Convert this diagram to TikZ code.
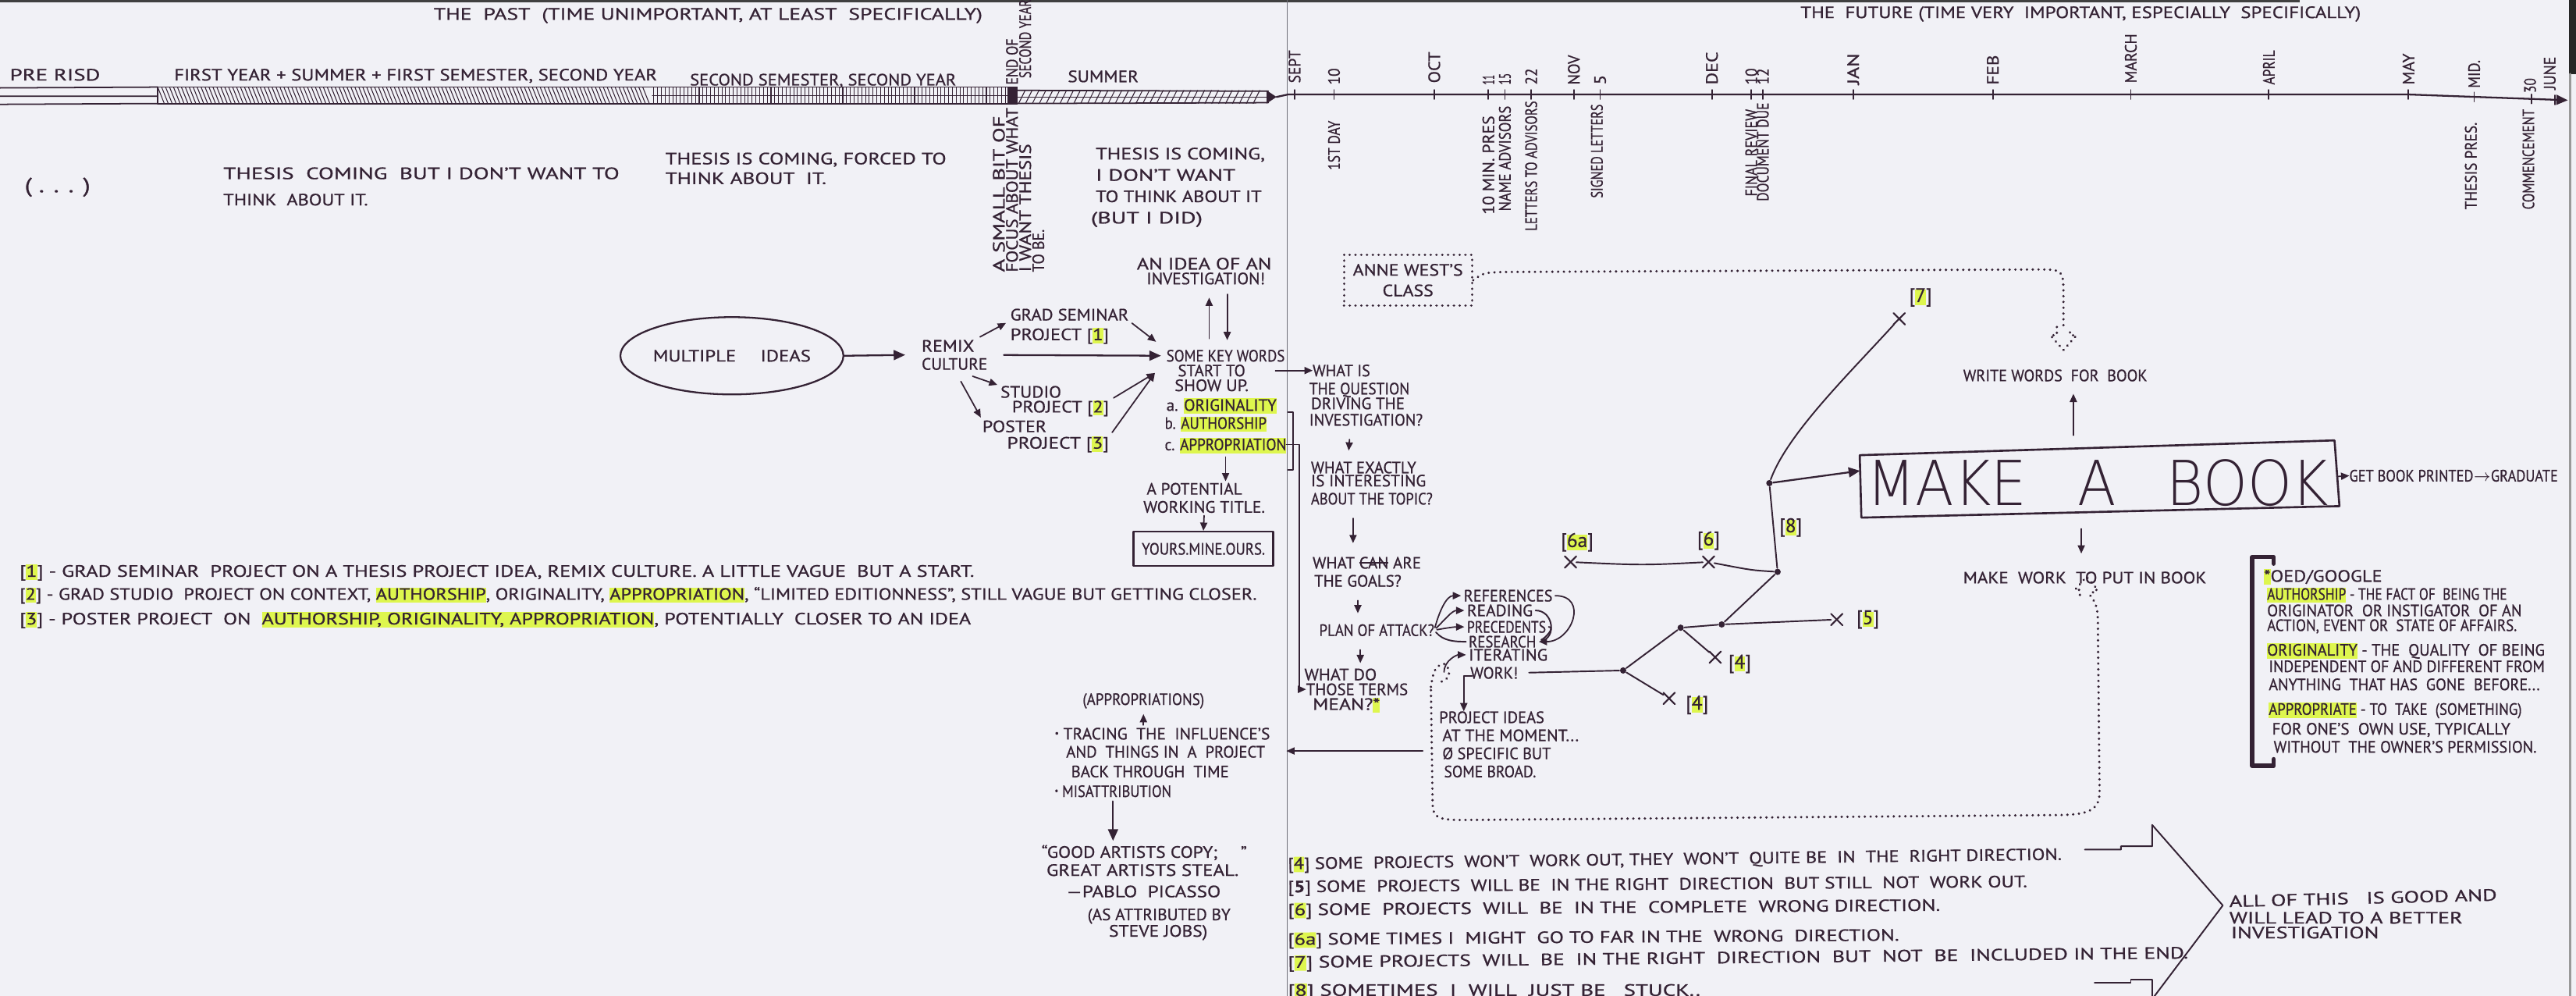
\documentclass[tikz,border=0pt]{standalone}
\usepackage{fontspec}
\setmainfont{PT Sans}[FakeBold=0.7]
\IfFontExistsTF{DejaVu Sans ExtraLight}
  {\newfontfamily\thinfont{DejaVu Sans ExtraLight}}
  {\newfontfamily\thinfont{DejaVu Sans}}
\usepackage{graphicx}
\usetikzlibrary{arrows.meta,shapes.geometric,shapes.misc,calc}

\definecolor{paper}{RGB}{241,241,246}
\definecolor{ink}{RGB}{52,34,52}
\definecolor{hilite}{RGB}{222,246,78}
\definecolor{foldgray}{RGB}{110,110,120}

\newlength\pxu
\setlength\pxu{0.2105mm}
% a handwritten line, squeezed or stretched to a width given in drawing units
\newcommand\fitw[2]{\resizebox{#1\pxu}{\height}{#2}}
% highlighter stroke behind a word
\newcommand\hlt[1]{\begingroup\setbox0=\hbox{#1}\rlap{\smash{\color{hilite}\rule[-1.1pt]{\wd0}{5.6pt}}}\box0\endgroup}
% crossed-out word
\newcommand\strk[1]{\begingroup\setbox0=\hbox{#1}\rlap{\smash{\rule[1.9pt]{\wd0}{0.45pt}}}\box0\endgroup}
\newcommand\tagn[1]{[\hlt{#1}]}
\newcommand\handfont{\fontsize{6}{7}\selectfont}
\newcommand\tagfont{\fontsize{7.2}{8}\selectfont}
\newcommand\bul{\raisebox{1.2pt}{\scalebox{0.55}{\textbullet}}}

\begin{document}
\begin{tikzpicture}[x=0.2105mm, y=-0.2105mm, line cap=round, line join=round,
  color=ink, line width=0.55pt,
  ln/.style={anchor=base west, inner sep=0pt, outer sep=0pt, font=\handfont, text=ink},
  upl/.style={rotate=90, anchor=west, inner sep=0pt, font=\handfont, text=ink},
  dnl/.style={rotate=90, anchor=east, inner sep=0pt, font=\handfont, text=ink},
  tagl/.style={inner sep=0pt, font=\tagfont, text=ink},
  arr/.style={-{Triangle[length=4.2pt,width=3.6pt]}, line width=0.65pt},
  sarr/.style={-{Triangle[length=3pt,width=2.6pt]}, line width=0.5pt},
  dotline/.style={dash pattern=on 0.01pt off 2.1pt, line width=0.95pt},
  hatch/.style={line width=0.3pt},
  xm/.style={cross out, draw=ink, minimum size=3.6pt, inner sep=0pt, line width=0.6pt},
  knot/.style={circle, fill=ink, inner sep=0pt, minimum size=2.3pt},
]
% ---------- sheet ----------
\fill[paper] (0,0) rectangle (1568,606);
\useasboundingbox (0,0) rectangle (1568,606);
\fill[black!75] (0,0) rectangle (1400,1.3);
\fill[black!85] (1563.5,0) rectangle (1568,45);
\draw[black!40, line width=0.8pt] (1564.5,45) -- (1564.5,606);
\draw[foldgray, line width=0.45pt] (783.5,0) -- (783.5,606);

% ---------- headings ----------
\node[ln] (pasthead) at (264,12) {\fitw{334}{THE \ PAST \ (TIME UNIMPORTANT, AT LEAST \ SPECIFICALLY)}};
\node[ln] (futhead) at (1096,11) {\fitw{341}{THE \ FUTURE (TIME VERY \ IMPORTANT, ESPECIALLY \ SPECIFICALLY)}};

% ---------- the past: shaded time bar ----------
\draw[line width=0.5pt] (0,53.5) -- (96,53) (0,58.5) -- (96,58.5) (0,63.5) -- (96,63);
\draw[line width=0.5pt] (96,53) -- (614,53) (96,63) -- (614,63) (96,53) -- (96,63);
\foreach \x in {96,98.4,...,393} \draw[hatch] (\x,53) -- (\x+4,63);
\foreach \x in {398,400.3,...,612} \draw[hatch] (\x,53) -- (\x,63);
\draw[hatch] (397,58) -- (614,58);
\fill (613,52.5) rectangle (619.5,63.5);
\draw[line width=0.5pt] (619,55) -- (772,55.5) (619,63) -- (772,62.5);
\draw[hatch] (619,59) -- (772,59);
\foreach \x in {620,624.2,...,766} \draw[hatch] (\x,63) -- (\x+4,55);
\fill (771,55) -- (777,59) -- (771,63) -- cycle;

\node[ln] (prerisd) at (6,49) {\fitw{55}{PRE RISD}};
\node[ln] (yearone) at (106,49) {\fitw{294}{FIRST YEAR + SUMMER + FIRST SEMESTER, SECOND YEAR}};
\node[ln] (semtwo) at (420,52) {\fitw{162}{SECOND SEMESTER, SECOND YEAR}};
\node[ln] (summer) at (650,50) {\fitw{43}{SUMMER}};
\node[upl] (endof) at (616,52) {\fitw{28}{END OF}};
\node[upl] (secyear) at (624,48) {\fitw{48}{SECOND YEAR}};

% ---------- the future: time line ----------
\draw[arr] (777,59) -- (784,57.5) -- (1466,57.5) -- (1563,61);
\foreach \x/\y in {788/57.5,812/57.5,873/57.5,906/57.5,916/57.5,932/57.5,958/57.5,974/57.5,
  1042/57.5,1066/57.5,1073/57.5,1128/57.5,1213/57.5,1297/57.5,1381/57.5,1466/57.5,
  1506/59,1541/60.2,1555/60.8}
  \draw[line width=0.5pt] (\x,\y-2.8) -- (\x,\y+2.8);

\node[upl] (mSep) at (788,51) {\fitw{20}{SEPT}};
\node[upl] (mS10) at (812,52) {\fitw{10}{10}};
\node[upl] (mOct) at (873,51) {\fitw{19}{OCT}};
\node[upl] (mO11) at (906,52) {\fitw{6}{11}};
\node[upl] (mO15) at (916,52) {\fitw{7}{15}};
\node[upl] (mO22) at (932,52) {\fitw{10}{22}};
\node[upl] (mNov) at (958,52) {\fitw{18}{NOV}};
\node[upl] (mN5) at (974,52) {\fitw{6}{5}};
\node[upl] (mDec) at (1042,52) {\fitw{20}{DEC}};
\node[upl] (mD10) at (1066,52) {\fitw{10}{10}};
\node[upl] (mD12) at (1073,52) {\fitw{10}{12}};
\node[upl] (mJan) at (1128,52) {\fitw{19}{JAN}};
\node[upl] (mFeb) at (1213,52) {\fitw{18}{FEB}};
\node[upl] (mMar) at (1297,51) {\fitw{30}{MARCH}};
\node[upl] (mApr) at (1381,52) {\fitw{21}{APRIL}};
\node[upl] (mMay) at (1466,52) {\fitw{19}{MAY}};
\node[upl] (mMid) at (1506,54) {\fitw{17}{MID.}};
\node[upl] (mM30) at (1540,57) {\fitw{9}{30}};
\node[upl] (mJun) at (1552,55) {\fitw{20}{JUNE}};

\node[dnl] (eDay) at (812,73) {\fitw{30}{1ST DAY}};
\node[dnl] (ePres) at (906,70) {\fitw{60}{10 MIN. PRES}};
\node[dnl] (eName) at (916,64) {\fitw{64}{NAME ADVISORS}};
\node[dnl] (eLet) at (932,61) {\fitw{79}{LETTERS TO ADVISORS}};
\node[dnl] (eSign) at (972,63) {\fitw{57}{SIGNED LETTERS}};
\node[dnl] (eRev) at (1066,66) {\fitw{53}{FINAL REVIEW}};
\node[dnl] (eDoc) at (1073,62) {\fitw{60}{DOCUMENT DUE}};
\node[dnl] (eThe) at (1504,74) {\fitw{53}{THESIS PRES.}};
\node[dnl] (eCom) at (1539,66) {\fitw{61}{COMMENCEMENT}};

% ---------- the past: notes ----------
\node[ln, font=\fontsize{7.5}{8}\selectfont] (ellip) at (15,117) {\fitw{40}{( . . . )}};
\node[ln] (ta1) at (136,109) {\fitw{241}{THESIS \ COMING \ BUT I DON'T WANT TO}};
\node[ln] (ta2) at (136,125) {\fitw{88}{THINK \ ABOUT IT.}};
\node[ln] (tb1) at (405,100) {\fitw{171}{THESIS IS COMING, FORCED TO}};
\node[ln] (tb2) at (405,112) {\fitw{98}{THINK ABOUT \ IT.}};
\node[upl] (fa) at (608,166) {\fitw{95}{A SMALL BIT OF}};
\node[upl] (fb) at (616,166) {\fitw{100}{FOCUS ABOUT WHAT}};
\node[upl] (fc) at (624,166) {\fitw{78}{I WANT THESIS}};
\node[upl] (fd) at (632,166) {\fitw{26}{TO BE.}};
\node[ln] (tc1) at (667,97) {\fitw{103}{THESIS IS COMING,}};
\node[ln] (tc2) at (667,110) {\fitw{85}{I DON'T WANT}};
\node[ln] (tc3) at (667,123) {\fitw{101}{TO THINK ABOUT IT}};
\node[ln] (tc4) at (664,136) {\fitw{68}{(BUT I DID)}};

% ---------- how the idea came about ----------
\node[ellipse, draw, line width=0.65pt, minimum width=22.5mm, minimum height=9.9mm,
  inner sep=0pt, font=\handfont, text=ink] (ideas) at (445.5,216.5) {\fitw{96}{MULTIPLE \quad IDEAS}};
\node[ln] (remix) at (561,214) {\fitw{32}{REMIX}};
\node[ln] (culture) at (561,225) {\fitw{40}{CULTURE}};
\node[ln] (grada) at (615,195) {\fitw{72}{GRAD SEMINAR}};
\node[ln] (gradb) at (615,207) {\fitw{60}{PROJECT \tagn{1}}};
\node[ln] (stua) at (609,242) {\fitw{37}{STUDIO}};
\node[ln] (stub) at (616,251) {\fitw{59}{PROJECT \tagn{2}}};
\node[ln] (posa) at (598,263) {\fitw{39}{POSTER}};
\node[ln] (posb) at (613,273) {\fitw{62}{PROJECT \tagn{3}}};
\node[ln] (kwa) at (710,220) {\fitw{72}{SOME KEY WORDS}};
\node[ln] (kwb) at (717,229) {\fitw{41}{START TO}};
\node[ln] (kwc) at (715,238) {\fitw{45}{SHOW UP.}};
\node[ln] (wa) at (710,250) {\fitw{67}{a. \hlt{ORIGINALITY}}};
\node[ln] (wb) at (709,261) {\fitw{62}{b. \hlt{AUTHORSHIP}}};
\node[ln] (wc) at (709,274) {\fitw{74}{c. \hlt{APPROPRIATION}}};
\node[ln] (inva) at (692,164) {\fitw{82}{AN IDEA OF AN}};
\node[ln] (invb) at (698,173) {\fitw{72}{INVESTIGATION!}};
\node[ln] (pota) at (698,301) {\fitw{58}{A POTENTIAL}};
\node[ln] (potb) at (696,312) {\fitw{74}{WORKING TITLE.}};
\node[draw, line width=0.65pt, minimum width=17.9mm, minimum height=4.4mm, inner sep=0pt,
  font=\handfont, text=ink] (yours) at (732.5,334) {\fitw{75}{YOURS.MINE.OURS.}};

\coordinate (remixin) at (551,216);
\coordinate (kwin) at (703,227);
\coordinate (kwup) at (736,206);
\coordinate (kwdown) at (747,207);
\draw[arr] (ideas.east) -- (remixin);
\draw[sarr, shorten <=2.4pt, shorten >=1.8pt] (remix.north east) -- (grada.south west);
\draw[sarr, shorten <=1.5pt, shorten >=4.8pt] (grada.south east) -- (kwa.north west);
\draw[arr, shorten <=8.4pt, shorten >=2pt] ($(remix.east)!0.5!(culture.east)$) -- (kwa.west);
\draw[sarr, shorten <=7pt, shorten >=1.2pt] (culture.south) -- (stua.north west);
\draw[sarr, shorten <=4.8pt, shorten >=1.2pt] (culture.south) -- (posa.north west);
\draw[sarr, shorten <=2pt] (stub.north east) -- (kwin);
\draw[sarr, shorten <=2pt] (posb.north east) -- (kwin);
\draw[sarr, shorten >=4.8pt] (kwup) -- (kwup |- invb.south);
\draw[sarr, shorten <=3.6pt] (kwdown |- invb.south) -- (kwdown);
\draw[sarr, shorten <=2.4pt, shorten >=0.6pt] (wc.south) -- (wc.south |- pota.north);
\draw[sarr, shorten <=1pt] (potb.south) -- (yours.north);

% ---------- footnotes of the past ----------
\node[ln] (fn1) at (12,351) {\fitw{581}{\tagn{1} - GRAD SEMINAR \ PROJECT ON A THESIS PROJECT IDEA, REMIX CULTURE. A LITTLE VAGUE \ BUT A START.}};
\node[ln] (fn2) at (12,365) {\fitw{753}{\tagn{2} - GRAD STUDIO \ PROJECT ON CONTEXT, \hlt{AUTHORSHIP}, ORIGINALITY, \hlt{APPROPRIATION}, “LIMITED EDITIONNESS”, STILL VAGUE BUT GETTING CLOSER.}};
\node[ln] (fn3) at (12,380) {\fitw{579}{\tagn{3} - POSTER PROJECT \ ON \ \hlt{AUTHORSHIP, ORIGINALITY, APPROPRIATION}, POTENTIALLY \ CLOSER TO AN IDEA}};

% ---------- appropriation notes ----------
\node[ln] (appr) at (659,429) {\fitw{74}{(APPROPRIATIONS)}};
\node[ln] (tra) at (642,450) {\fitw{131}{\bul\ TRACING \ THE \ INFLUENCE'S}};
\node[ln] (trb) at (649,461) {\fitw{121}{AND \ THINGS IN \ A \ PROJECT}};
\node[ln] (trc) at (652,473) {\fitw{96}{BACK THROUGH \ TIME}};
\node[ln] (mis) at (642,485) {\fitw{71}{\bul\ MISATTRIBUTION}};
\node[ln] (qa) at (634,522) {\fitw{125}{“GOOD ARTISTS COPY; \quad ”}};
\node[ln] (qb) at (637,533) {\fitw{117}{GREAT ARTISTS STEAL.}};
\node[ln] (pic) at (649,546) {\fitw{94}{---PABLO \ PICASSO}};
\node[ln] (asat) at (662,560) {\fitw{87}{(AS ATTRIBUTED BY}};
\node[ln] (jobs) at (675,570) {\fitw{60}{STEVE JOBS)}};
\draw[sarr, shorten <=1pt, shorten >=2pt] (appr.south |- tra.north) -- (appr.south);
\draw[arr, shorten <=1.5pt, shorten >=1.5pt] (mis.south) -- (mis.south |- qa.north);

% ---------- the questions ----------
\node[ln] (qia) at (799,229) {\fitw{35}{WHAT IS}};
\node[ln] (qib) at (797,240) {\fitw{61}{THE QUESTION}};
\node[ln] (qic) at (798,249) {\fitw{57}{DRIVING THE}};
\node[ln] (qid) at (797,259) {\fitw{69}{INVESTIGATION?}};
\node[ln] (qiia) at (798,288) {\fitw{64}{WHAT EXACTLY}};
\node[ln] (qiib) at (798,296) {\fitw{70}{IS INTERESTING}};
\node[ln] (qiic) at (798,307) {\fitw{74}{ABOUT THE TOPIC?}};
\node[ln] (qiiia) at (799,346) {\fitw{66}{WHAT \strk{CAN} ARE}};
\node[ln] (qiiib) at (800,357) {\fitw{53}{THE GOALS?}};
\node[ln] (plan) at (803,387) {\fitw{70}{PLAN OF ATTACK?}};
\node[ln] (qva) at (794,414) {\fitw{44}{WHAT DO}};
\node[ln] (qvb) at (795,423) {\fitw{62}{THOSE TERMS}};
\node[ln] (qvc) at (799,432) {\fitw{41}{MEAN?\hlt{*}}};

\draw[sarr, shorten <=11pt] (kwb.east) -- (qia.west);
\draw (784,251) -- (787,251) -- (787,286) -- (784,286);
\draw[sarr] (wc.east) -- ++(8,0) |- (qvb.west);
\draw[sarr, shorten <=5pt, shorten >=4pt] ([xshift=-2mm]qid.south) -- ([xshift=-2mm]qiia.north);
\draw[sarr, shorten <=5pt, shorten >=5pt] ([xshift=-2.4mm]qiic.south) -- ([xshift=-2.4mm]qiic.south |- qiiia.north);
\draw[sarr, shorten <=5pt, shorten >=4pt] (qiiib.south) -- (qiiib.south |- plan.north);
\draw[sarr, shorten <=5pt, shorten >=2pt] ([xshift=-2.1mm]plan.south) -- ([xshift=-2.1mm]plan.south |- qva.north);

% ---------- plan of attack ----------
\node[ln] (rfa) at (891,366) {\fitw{54}{REFERENCES}};
\node[ln] (rfb) at (893,375) {\fitw{40}{READING}};
\node[ln] (rfc) at (893,385) {\fitw{48}{PRECEDENTS}};
\node[ln] (rfd) at (894,394) {\fitw{41}{RESEARCH}};
\node[ln] (rfe) at (894,402) {\fitw{48}{ITERATING}};
\node[ln] (rff) at (895,413) {\fitw{29}{WORK!}};
\node[ln] (pia) at (876,440) {\fitw{64}{PROJECT IDEAS}};
\node[ln] (pib) at (878,451) {\fitw{83}{AT THE MOMENT...}};
\node[ln] (pic2) at (878,462) {\fitw{66}{Ø SPECIFIC BUT}};
\node[ln] (pid) at (879,473) {\fitw{56}{SOME BROAD.}};

\draw[sarr, shorten <=1pt, shorten >=1pt] (plan.east) to[out=75,in=180] (rfa.west);
\draw[sarr, shorten <=1pt, shorten >=1pt] (plan.east) to[out=45,in=180] (rfb.west);
\draw[sarr, shorten <=1pt, shorten >=1pt] (plan.east) to[out=10,in=180] (rfc.west);
\draw[shorten <=1pt, shorten >=1pt] (plan.east) to[out=-50,in=180] (rfd.west);
\draw[sarr, shorten <=1pt, shorten >=1pt] (rfa.east) to[out=0,in=0,looseness=1.9] (rfd.east);
\draw[shorten <=1pt, shorten >=2pt] (rfb.east) to[out=0,in=10,looseness=1.7] (rfd.east);
\draw[shorten <=1pt, shorten >=2pt] (rfc.east) to[out=0,in=20,looseness=1.4] (rfd.east);
\coordinate (curl) at (879,409);
\draw[sarr, shorten >=1pt] (curl) to[out=90,in=180] (rfe.west);
\coordinate (workbend) at (891,411.5);
\draw (workbend) -- ++(5,0);
\draw[sarr] (workbend) -- (workbend |- pia.north);
\coordinate (backstart) at (866,457);
\draw[sarr] (backstart) -- (backstart -| wc.east);

% dotted loop back from the project ideas to the book
\draw[dotline] (871,418) to[out=80,in=200] (878,404) to[out=20,in=90] (882,410) to[out=-90,in=30] (875,416);
\draw[dotline] (871,420) -- (872,488) .. controls (872,497) and (874,499) .. (890,499)
  -- (1250,496) .. controls (1270,496) and (1278,494) .. (1278,482) -- (1277,385)
  .. controls (1277,372) and (1277,368) .. (1272,362);
\draw[dotline] (1266,362) -- (1266,359) -- (1263,359) -- (1270,351) -- (1277,359) -- (1274,359) -- (1274,362);

% ---------- anne west's class ----------
\node[draw, dotline, minimum width=16.4mm, minimum height=6.5mm, inner sep=0pt, align=center,
  font=\handfont, text=ink] (anne) at (857,170.5) {\fitw{67}{ANNE WEST'S}\\[0.5pt]\fitw{31}{CLASS}};
\draw[dotline] (anne.east) .. controls (903,166) .. (915,165.5) -- (1240,164)
  .. controls (1256,164) .. (1256,180) -- (1256,199);
\draw[dotline] (1252,199) -- (1252,204) -- (1248,204) -- (1256,213) -- (1264,204) -- (1260,204) -- (1260,199);

% ---------- make a book ----------
\coordinate (bk1) at (1132,277);
\coordinate (bk2) at (1421,268);
\coordinate (bk3) at (1424,308);
\coordinate (bk4) at (1133,315);
\draw[line width=0.75pt] (bk1) -- (bk2) -- (bk3) -- (bk4) -- cycle;
\node[inner sep=0pt, text=ink] (booktxt) at (1277,294) {\resizebox{281\pxu}{28\pxu}{\thinfont MAKE\hspace{0.9em}A\hspace{0.9em}BOOK}};
\node[ln] (print) at (1430,293) {\fitw{127}{GET BOOK PRINTED$\rightarrow$GRADUATE}};
\node[ln] (ww) at (1195,232) {\fitw{112}{WRITE WORDS \ FOR \ BOOK}};
\node[ln] (mw) at (1195,355) {\fitw{148}{MAKE \ WORK \ TO PUT IN BOOK}};
\coordinate (bktop) at ($(bk1)!0.45!(bk2)$);
\coordinate (bkbot) at ($(bk4)!0.46!(bk3)$);
\draw[sarr] ($(bk2)!0.55!(bk3)$) -- (print.west);
\draw[sarr, shorten <=4.8pt, shorten >=4.5pt] (bktop) -- (bktop |- ww.south);
\draw[sarr, shorten <=6pt, shorten >=6.6pt] (bkbot) -- (bkbot |- mw.north);

% ---------- the branching road of projects ----------
\node[xm] (x7) at (1156,194) {};
\node[knot] (n1) at (1077,294) {};
\node[knot] (n2) at (1082,348) {};
\node[xm] (x6) at (1040,342) {};
\node[xm] (x6a) at (956,342) {};
\node[knot] (n3) at (1048,380) {};
\node[xm] (x5) at (1118,377) {};
\node[knot] (n4) at (1023,382) {};
\node[xm] (x4a) at (1044,400) {};
\node[knot] (n5) at (988,408) {};
\node[xm] (x4b) at (1016,425) {};
\draw (x7) .. controls (1125,228) and (1088,264) .. (n1);
\draw[arr] (n1) -- ($(bk1)!0.25!(bk4)$);
\draw (n1) -- (n2);
\draw (n2) .. controls (1066,347) .. (x6);
\draw (x6) .. controls (1000,344) .. (x6a);
\draw (n2) -- (n3);
\draw (n4) -- (n3) -- (x5);
\draw (n4) -- (x4a);
\draw (n4) -- (n5);
\draw (n5) -- (x4b);
\draw[shorten <=4pt] (rff.east) -- (n5);

\node[tagl] (t7) at (1169,181) {\tagn{7}};
\node[tagl] (t8) at (1090,321) {\tagn{8}};
\node[tagl] (t6a) at (960,330) {\tagn{6a}};
\node[tagl] (t6) at (1040,329) {\tagn{6}};
\node[tagl] (t5) at (1137,377) {\tagn{5}};
\node[tagl] (t4a) at (1059,404) {\tagn{4}};
\node[tagl] (t4b) at (1033,429) {\tagn{4}};

% ---------- definitions ----------
\draw[line width=1.6pt] (1384,343) -- (1384,339) -- (1371,339) -- (1371,466) -- (1384,466) -- (1384,462);
\node[ln] (oed) at (1378,354) {\fitw{72}{\hlt{*}OED/GOOGLE}};
\node[ln] (da) at (1380,365) {\fitw{146}{\hlt{AUTHORSHIP} - THE FACT OF \ BEING THE}};
\node[ln] (db) at (1380,375) {\fitw{155}{ORIGINATOR \ OR INSTIGATOR \ OF AN}};
\node[ln] (dc) at (1380,384) {\fitw{152}{ACTION, EVENT OR \ STATE OF AFFAIRS.}};
\node[ln] (dd) at (1380,399) {\fitw{169}{\hlt{ORIGINALITY} - THE \ QUALITY \ OF BEING}};
\node[ln] (de) at (1381,409) {\fitw{168}{INDEPENDENT OF AND DIFFERENT FROM}};
\node[ln] (df) at (1381,420) {\fitw{165}{ANYTHING \ THAT HAS \ GONE \ BEFORE...}};
\node[ln] (dg) at (1381,435) {\fitw{154}{\hlt{APPROPRIATE} - TO \ TAKE \ (SOMETHING)}};
\node[ln] (dh) at (1383,447) {\fitw{145}{FOR ONE'S \ OWN USE, TYPICALLY}};
\node[ln] (di) at (1384,458) {\fitw{160}{WITHOUT \ THE OWNER'S PERMISSION.}};

% ---------- footnotes of the future ----------
\node[ln, rotate=0.7] (fn4) at (784,529) {\fitw{471}{\tagn{4} SOME \ PROJECTS \ WON'T \ WORK OUT, THEY \ WON'T \ QUITE BE \ IN \ THE \ RIGHT DIRECTION.}};
\node[ln, rotate=0.4] (fn5) at (784,543) {\fitw{450}{[\textbf{5}] SOME \ PROJECTS \ WILL BE \ IN THE RIGHT \ DIRECTION \ BUT STILL \ NOT \ WORK OUT.}};
\node[ln, rotate=0.4] (fn6) at (784,557) {\fitw{397}{\tagn{6} SOME \ PROJECTS \ WILL \ BE \ IN THE \ COMPLETE \ WRONG DIRECTION.}};
\node[ln, rotate=0.4] (fn6a) at (784,575) {\fitw{372}{\tagn{6a} SOME TIMES I \ MIGHT \ GO TO FAR IN THE \ WRONG \ DIRECTION.}};
\node[ln, rotate=0.6] (fn7) at (784,589) {\fitw{548}{\tagn{7} SOME PROJECTS \ WILL \ BE \ IN THE RIGHT \ DIRECTION \ BUT \ NOT \ BE \ INCLUDED IN THE END.}};
\node[ln] (fn8) at (784,606) {\fitw{251}{\tagn{8} SOMETIMES \ I \ WILL \ JUST BE \ \ STUCK..}};

\draw (1269,517) -- (1291,517) -- (1291,515) -- (1310,515) -- (1310,502) -- (1353,551) -- (1307,612);
\draw (1275,598) -- (1297,598) -- (1297,596) -- (1310,596) -- (1310,612);
\node[ln, rotate=1.4] (alla) at (1357,552) {\fitw{163}{ALL OF THIS \ \ IS GOOD AND}};
\node[ln] (allb) at (1357,562) {\fitw{142}{WILL LEAD TO A BETTER}};
\node[ln] (allc) at (1358,571) {\fitw{90}{INVESTIGATION}};
\end{tikzpicture}
\end{document}
